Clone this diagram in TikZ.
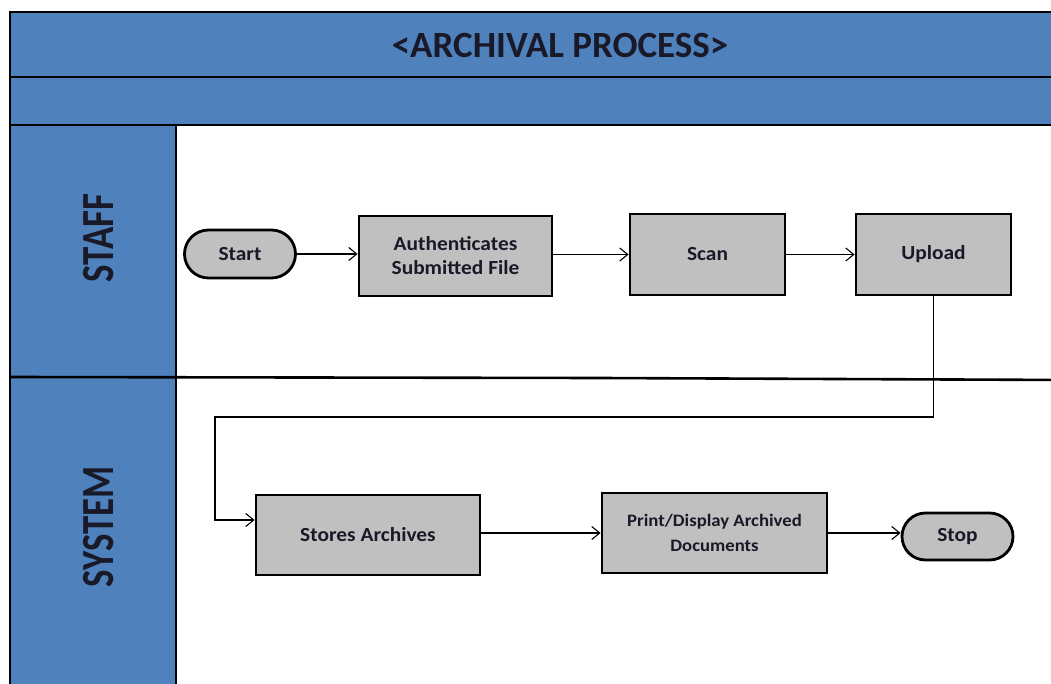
\documentclass[tikz,border=0pt]{standalone}
\usepackage{fontspec}
\setmainfont{Carlito}
\newfontfamily\lanefont[FakeStretch=0.8]{Carlito}
\newfontfamily\boxfont[FakeStretch=1.07]{Carlito}
\usetikzlibrary{shapes.misc,arrows.meta}
\definecolor{laneblue}{RGB}{79,129,189}
\definecolor{boxgray}{RGB}{192,192,192}
\definecolor{txt}{RGB}{25,25,40}
\tikzset{
  frame/.style={line width=2.6pt, draw=black},
  procbox/.style={draw=black, line width=2.8pt, fill=boxgray, rectangle, inner sep=0pt,
     text=txt, font=\boxfont\bfseries\fontsize{20}{24}\selectfont, align=center},
  termbox/.style={draw=black, line width=2.8pt, fill=boxgray, rounded rectangle, inner sep=0pt,
     text=txt, font=\boxfont\bfseries\fontsize{20}{24}\selectfont, align=center},
  conn/.style={draw=black, line width=1.1pt, -{Straight Barb[length=8pt,width=13pt,line width=1.1pt]}},
  lanelabel/.style={rotate=90, text=txt, font=\lanefont\bfseries\fontsize{46}{50}\selectfont},
  titlelabel/.style={text=txt, font=\bfseries\fontsize{37}{42}\selectfont}
}
\begin{document}
\begin{tikzpicture}[x=1pt,y=-1pt]
\useasboundingbox (0,0) rectangle (1051,684);
\clip (0,0) rectangle (1051,684);
\fill[white] (0,0) rectangle (1051,684);
% bands
\fill[laneblue] (10,12) rectangle (1070,125);
\fill[laneblue] (10,125) rectangle (176,700);
\draw[frame] (10,700) -- (10,12) -- (1070,12);
\draw[frame] (10,77) -- (1070,77);
\draw[frame] (10,125) -- (1070,125);
\draw[frame] (176,125) -- (176,700);
\draw[frame] (10,377) -- (600,378) -- (1070,380);
% labels
\node[titlelabel] (title) at (560,45) {<ARCHIVAL PROCESS>};
\node[lanelabel] (staff) at (99,238) {STAFF};
\node[lanelabel] (system) at (99,527) {SYSTEM};
% nodes
\node[termbox, minimum width=111pt, minimum height=48pt] (start) at (240,254) {Start};
\node[procbox, minimum width=193pt, minimum height=80pt] (auth) at (455.5,256) {Authenticates\\Submitted File};
\node[procbox, minimum width=155pt, minimum height=81pt] (scan) at (707.5,254.5) {Scan};
\node[procbox, minimum width=155pt, minimum height=81pt] (upload) at (933.5,254.5) {\raisebox{-3pt}{Upload}};
\node[procbox, minimum width=224pt, minimum height=80pt] (stores) at (368,535) {Stores Archives};
\node[procbox, minimum width=225pt, minimum height=80pt, font=\boxfont\bfseries\fontsize{17.5}{25}\selectfont] (print) at (714.5,533) {Print/Display Archived\\Documents};
\node[termbox, minimum width=111pt, minimum height=47pt] (stop) at (957.5,536.5) {Stop};
% connectors
\coordinate (c1) at (215,417);
\coordinate (c2) at (215,520);
\draw[conn] (start.east) -- (start.east -| auth.west);
\draw[conn] (scan.west -| auth.east) -- (scan.west);
\draw[conn] (scan.east) -- (upload.west);
\draw[conn] (upload.south) |- (c1) -- (c2) -- (c2 -| stores.west);
\draw[conn] (print.west -| stores.east) -- (print.west);
\draw[conn] (print.east) -- (print.east -| stop.west);
\end{tikzpicture}
\end{document}
